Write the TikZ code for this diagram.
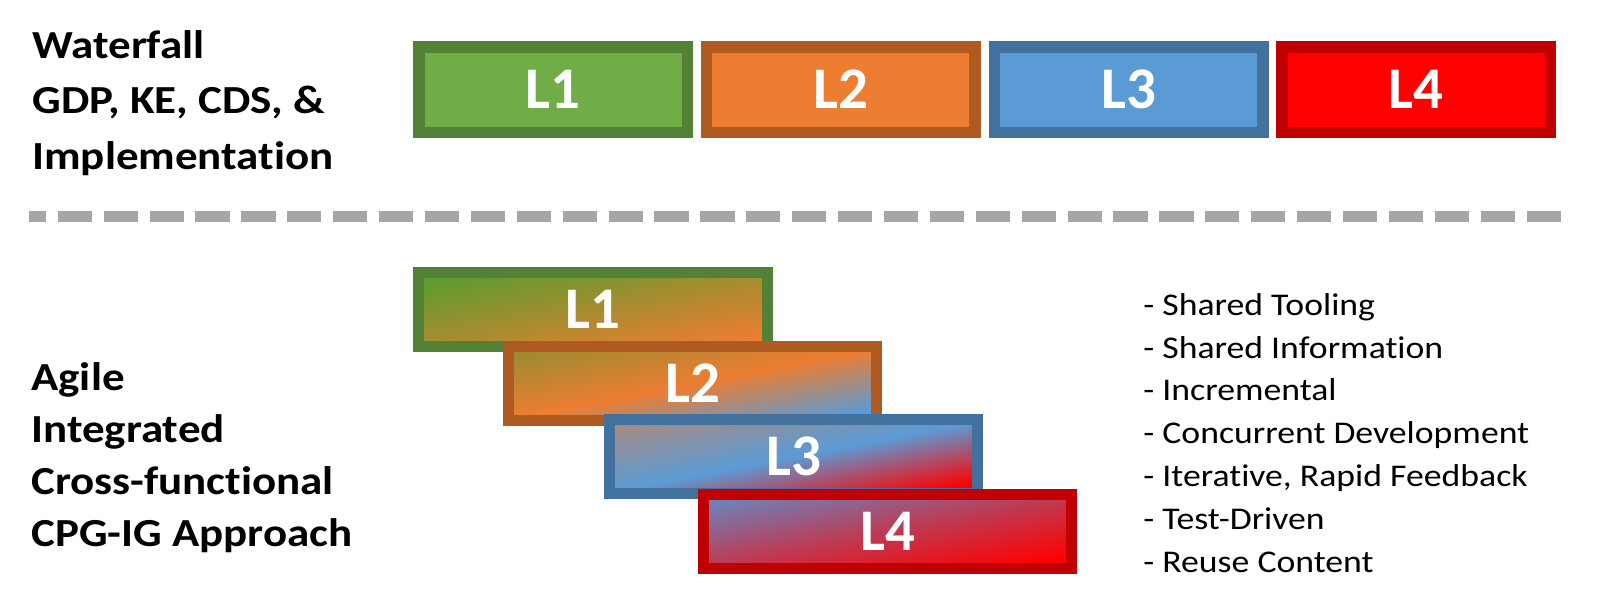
\documentclass[tikz,border=0pt]{standalone}
\usepackage{fontspec}
\setmainfont{Carlito}[Ligatures=NoCommon]
\newfontfamily\wideface{Carlito}[FakeStretch=1.13,Ligatures=NoCommon]
\usetikzlibrary{positioning,calc}
\definecolor{lvlA}{HTML}{70AD47}
\definecolor{lvlAline}{HTML}{538135}
\definecolor{lvlB}{HTML}{ED7D31}
\definecolor{lvlBline}{HTML}{AE5A21}
\definecolor{lvlC}{HTML}{5B9BD5}
\definecolor{lvlCline}{HTML}{41719C}
\definecolor{lvlD}{HTML}{FF0000}
\definecolor{lvlDline}{HTML}{C00000}
\definecolor{gradA}{HTML}{5E9C2E}
\definecolor{gradB}{HTML}{A08A30}
\definecolor{gradC}{HTML}{A08C88}
\definecolor{gradD}{HTML}{6F80B8}
\definecolor{sepline}{HTML}{A6A6A6}

\begin{document}
\begin{tikzpicture}[x=0.5pt,y=-0.5pt,
  lvl/.style={draw,inner sep=0pt,text=white,font=\fontsize{29.5pt}{29.5pt}\selectfont\bfseries},
  flatlvl/.style={lvl,line width=5.75pt,minimum width=134.25pt,minimum height=42.75pt},
  agilelvl/.style={lvl,line width=5.5pt,minimum width=184pt,minimum height=37pt},
  heading/.style={anchor=north west,inner sep=0pt,align=left,font=\wideface\fontsize{19.9pt}{27.75pt}\selectfont\bfseries},
  traits/.style={anchor=north west,inner sep=0pt,align=left,font=\wideface\fontsize{15.8pt}{21.4pt}\selectfont}
]
\useasboundingbox (0,0) rectangle (1600,602);

% waterfall row
\node[heading] (waterfall) at (32,30) {Waterfall\\GDP, KE, CDS, \&\\Implementation};
\foreach \n/\x/\fc/\lc in {1/553/lvlA/lvlAline,2/840.8/lvlB/lvlBline,3/1128.6/lvlC/lvlCline,4/1416.4/lvlD/lvlDline}
  \node[flatlvl,fill=\fc,draw=\lc] (flat\n) at (\x,89.5) {L\n};

% separator
\coordinate (sepL) at (29,216.5);
\coordinate (sepR) at (1562,216.5);
\draw[sepline,line width=5.5pt,dash pattern=on 17.1pt off 5.85pt,dash phase=8.6pt] (sepL) -- (sepR);

% agile row, overlapping levels
\node[heading,font=\wideface\fontsize{19.9pt}{26pt}\selectfont\bfseries] (agile) at (31,362)
  {Agile\\Integrated\\Cross-functional\\CPG-IG Approach};
\node[agilelvl,minimum width=174.5pt,draw=lvlAline,top color=gradA,bottom color=lvlB,middle color=gradA!50!lvlB,shading angle=11] (agile1) at (593,309.5) {L1};
\foreach \n/\x/\y/\lc/\ca/\cb/\cc in {2/692.5/383.5/lvlBline/gradB/lvlB/lvlC,3/793.5/456.5/lvlCline/gradC/lvlC/lvlD,4/887.5/531.5/lvlDline/gradD/gradD!45!lvlD/lvlD}
  \node[agilelvl,draw=\lc,top color=\ca,bottom color=\cc,middle color=\cb,shading angle=11] (agile\n) at (\x,\y) {L\n};

\node[traits] (traits) at (1143,293)
  {- Shared Tooling\\- Shared Information\\- Incremental\\- Concurrent Development\\- Iterative, Rapid Feedback\\- Test-Driven\\- Reuse Content};
\end{tikzpicture}
\end{document}
